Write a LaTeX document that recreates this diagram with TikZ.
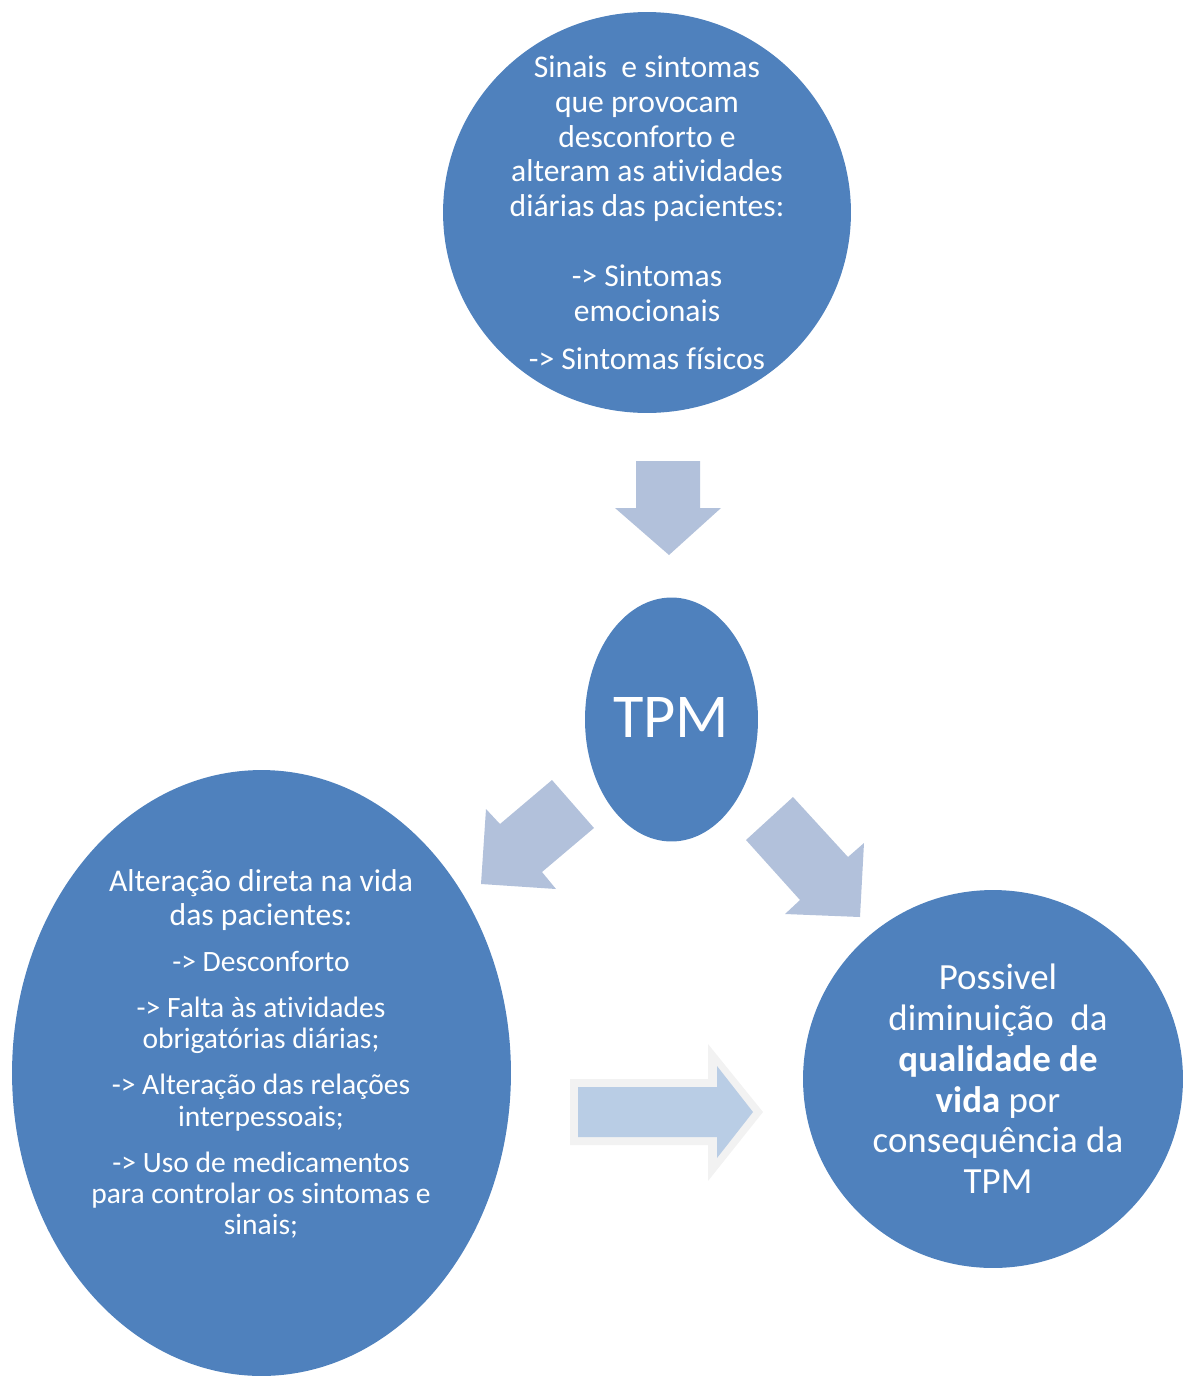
\documentclass[tikz,border=0pt]{standalone}
\usepackage{fontspec}
\setmainfont{Carlito}[Ligatures=NoCommon]
\usetikzlibrary{shapes.geometric}

\definecolor{bubblefill}{HTML}{4F81BD}
\definecolor{arrowfill}{HTML}{B2C1DB}
\definecolor{flatfill}{HTML}{B9CDE5}
\definecolor{rimfill}{HTML}{F2F2F2}

\begin{document}
\begin{tikzpicture}[x=0.02cm, y=-0.02cm,
    bubble/.style ={ellipse, fill=bubblefill, inner sep=0pt},
    caption/.style ={text=white, align=center, inner sep=0pt},
    bigarrow/.style ={fill=arrowfill}]
   \useasboundingbox (0,0) rectangle (1184,1376);
   \node[bubble, minimum width=8.16cm, minimum height=8.02cm] (sinais) at (647,212.5) {};
   \node[bubble, minimum width=3.46cm, minimum height=4.88cm] (tpm) at (671.5,719.5) {};
   \node[bubble, minimum width=9.98cm, minimum height=12.12cm] (vida) at (261.5,1073) {};
   \node[bubble, minimum width=7.6cm, minimum height=7.56cm] (qualidade) at (993,1079) {};
   \node[caption, font=\fontsize{18}{19.85}\selectfont] (sinaistxt) at (sinais.center)
     {Sinais\ \ e sintomas\\que provocam\\desconforto e\\alteram as atividades\\diárias das pacientes:\\[19.85pt]
      -> Sintomas\\emocionais\\[7.4pt]-> Sintomas físicos};
   \node[caption, font=\fontsize{35.5}{42}\selectfont] (tpmtxt) at (671,717) {TPM};
   \node[caption, font=\fontsize{18}{19.85}\selectfont] (vidahead) at (261,900)
     {Alteração direta na vida\\das pacientes:};
   \node[caption, font=\fontsize{16.8}{17.9}\selectfont] (vidatxt) at (261,1095)
     {-> Desconforto\\[8.2pt]
      -> Falta às atividades\\obrigatórias diárias;\\[8.2pt]
      -> Alteração das relações\\interpessoais;\\[8.2pt]
      -> Uso de medicamentos\\para controlar os sintomas e\\sinais;};
   \node[caption, font=\fontsize{21}{23.2}\selectfont] (qualidadetxt) at (998,1079)
     {Possivel\\diminuição\ \ da\\\textbf{qualidade de}\\\textbf{vida} por\\consequência da\\TPM};
   \fill[bigarrow] (636,461) -- (700,461) -- (700,508) -- (721,508) -- (669,555) -- (615,508) -- (636,508) -- cycle;
   \fill[bigarrow] (552,780) -- (594,828) -- (542,872) -- (556,889) -- (481,884) -- (486,809) -- (500,824) -- cycle;
   \fill[bigarrow] (793,797) -- (848,857) -- (864,843) -- (860,917) -- (785,914) -- (800,900) -- (746,840) -- cycle;
   \fill[rimfill] (570,1079) -- (708,1079) -- (708,1044) -- (763,1112) -- (708,1181) -- (708,1145) -- (570,1145) -- cycle;
   \fill[flatfill] (578,1087) -- (717,1087) -- (717,1066) -- (753,1112) -- (717,1158) -- (717,1137) -- (578,1137) -- cycle;
\end{tikzpicture}
\end{document}
